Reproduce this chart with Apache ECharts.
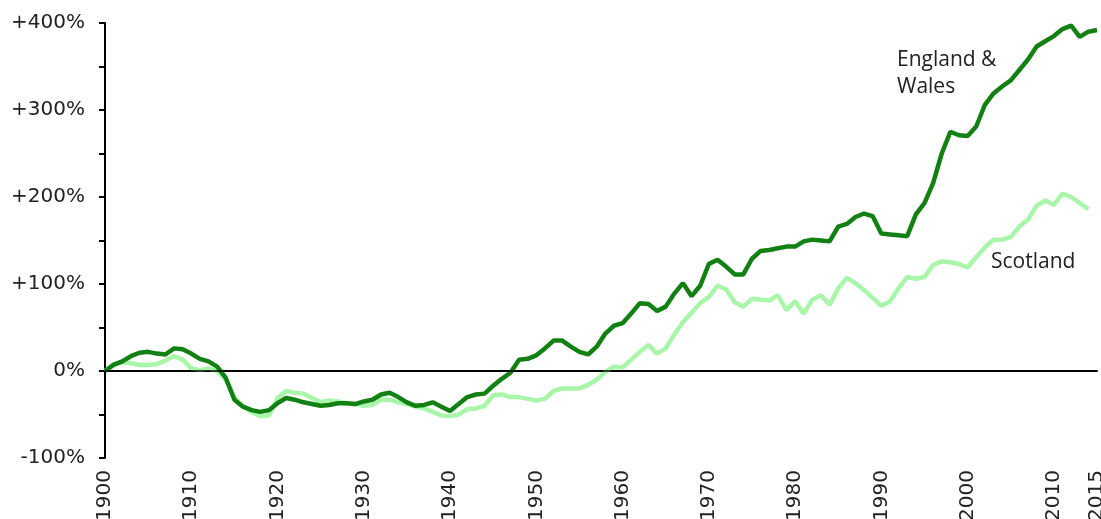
<!DOCTYPE html>
<html>
<head>
<meta charset="utf-8">
<script src="https://cdn.jsdelivr.net/npm/echarts@6/dist/echarts.min.js"></script>
<style>
  html, body { margin: 0; padding: 0; background: #fff; }
  #chart { width: 1101px; height: 519px; }
</style>
</head>
<body>
<div id="chart"></div>
<script>
// 数据
const years = [];
for (let y = 1900; y <= 2015; y++) years.push(y);

const englandWales = [
  0, 7, 11, 17, 21, 22, 20, 19, 26, 25,
  20, 14, 11, 5, -8, -33, -41, -45, -47, -45,
  -37, -31, -33, -36, -38, -40, -39, -37, -37, -38,
  -35, -33, -27, -25, -30, -36, -40, -39, -36, -41,
  -46, -38, -30, -27, -26, -17, -9, -2, 13, 14,
  18, 26, 35, 35, 28, 22, 19, 28, 43, 52,
  55, 66, 78, 77, 69, 74, 89, 101, 86, 98,
  123, 128, 120, 111, 111, 129, 138, 139, 141, 143,
  143, 149, 151, 150, 149, 166, 169, 177, 181, 178,
  158, 157, 156, 155, 180, 193, 216, 250, 275, 271,
  270, 281, 306, 319, 327, 334, 346, 358, 373, 379,
  385, 393, 397, 384, 390, 392
];

const scotland = [
  0, 8, 10, 9, 7, 7, 8, 12, 17, 13,
  3, 1, 3, 0, -10, -30, -41, -47, -52, -51,
  -31, -23, -25, -26, -31, -36, -34, -35, -37, -38,
  -40, -39, -33, -33, -36, -38, -41, -43, -47, -51,
  -52, -50, -44, -43, -40, -28, -27, -30, -30, -32,
  -34, -32, -23, -20, -20, -20, -16, -10, -1, 5,
  4, 13, 22, 30, 20, 26, 42, 56, 67, 78,
  85, 98, 94, 79, 74, 83, 82, 81, 87, 70,
  80, 66, 82, 87, 76, 95, 107, 101, 93, 84,
  75, 80, 95, 108, 106, 108, 122, 126, 125, 123,
  119, 131, 142, 151, 151, 154, 166, 174, 190, 196,
  191, 204, 200, 193, 186
];

const yLabels = { '-100': '-100%', '0': '0%', '100': '+100%', '200': '+200%', '300': '+300%', '400': '+400%' };

const tickFont = 'DejaVu Sans, sans-serif';
const noteFont = '"Open Sans", sans-serif';

function pairs(vals) {
  return vals.map((v, i) => [years[i], v]);
}

const chart = echarts.init(document.getElementById('chart'));

chart.setOption({
  animation: false,
  grid: { left: 105, right: 4, top: 23, bottom: 61, outerBoundsMode: 'none' },
  xAxis: {
    type: 'value',
    min: 1900,
    max: 2015,
    interval: 10,
    axisLine: { show: true, lineStyle: { color: '#000', width: 2 } },
    axisTick: { show: false },
    splitLine: { show: false },
    axisLabel: {
      rotate: 90,
      margin: 12,
      color: '#222',
      fontSize: 20,
      fontFamily: tickFont,
      showMaxLabel: true,
      formatter: v => String(v)
    }
  },
  yAxis: {
    type: 'value',
    min: -100,
    max: 400,
    interval: 50,
    axisLine: { show: true, lineStyle: { color: '#000', width: 2 } },
    axisTick: { show: true, inside: false, length: 6, lineStyle: { color: '#000', width: 2 } },
    splitLine: { show: false },
    axisLabel: {
      margin: 20,
      color: '#222',
      fontSize: 20,
      fontFamily: tickFont,
      formatter: v => yLabels[String(v)] || ''
    }
  },
  series: [
    {
      name: 'Scotland',
      type: 'line',
      data: pairs(scotland),
      showSymbol: false,
      lineStyle: { color: '#a9f5a9', width: 4.5 },
      z: 2,
      markLine: {
        silent: true,
        symbol: 'none',
        label: { show: false },
        lineStyle: { color: '#000', width: 1.5, type: 'solid' },
        data: [{ yAxis: 0 }]
      }
    },
    {
      name: 'England & Wales',
      type: 'line',
      data: pairs(englandWales),
      showSymbol: false,
      lineStyle: { color: '#138013', width: 4.5 },
      z: 3
    }
  ],
  graphic: [
    {
      type: 'text', left: 897, top: 47,
      style: { text: 'England &\nWales', fill: '#222', font: '21px ' + noteFont, lineHeight: 27 }
    },
    {
      type: 'text', left: 991, top: 249,
      style: { text: 'Scotland', fill: '#222', font: '21px ' + noteFont, lineHeight: 27 }
    }
  ]
});
</script>
</body>
</html>
